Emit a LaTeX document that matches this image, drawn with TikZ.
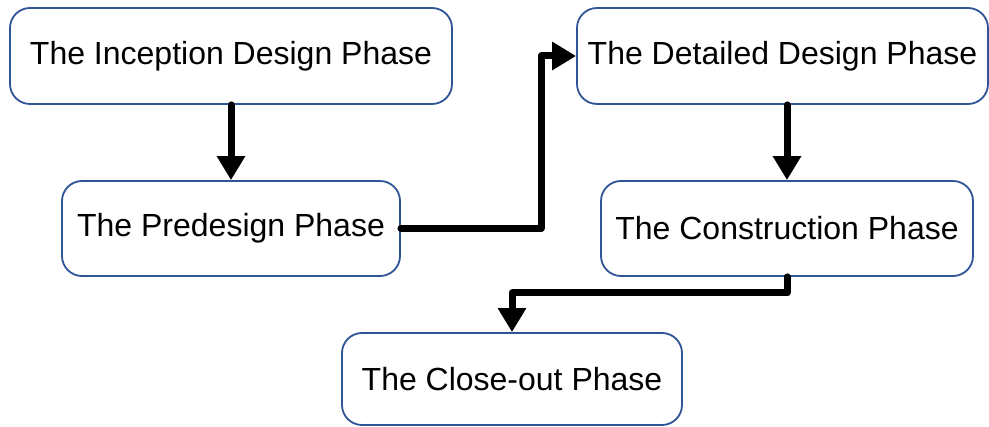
\documentclass[tikz,border=0pt]{standalone}
\usepackage{fontspec}
\setmainfont{Liberation Sans}
\usetikzlibrary{arrows.meta}
\definecolor{phaseblue}{RGB}{47,85,151}
\begin{document}
\begin{tikzpicture}[x=1pt,y=-1pt,
  phase/.style={draw=phaseblue, line width=1.8pt, rounded corners=20pt,
    fill=white, inner sep=0pt, font=\fontsize{32}{36}\selectfont},
  flow/.style={line width=7pt, line cap=round, line join=round,
    -{Triangle[length=24pt,width=27pt]}}
]
\useasboundingbox (0,0) rectangle (989,427);

% project phases
\node[phase, minimum width=442pt, minimum height=96pt] (inception) at (231,56) {The Inception Design Phase};
\node[phase, minimum width=338pt, minimum height=95pt] (predesign) at (231,228.5) {The Predesign Phase};
\node[phase, minimum width=411pt, minimum height=96pt] (detailed) at (782.5,56) {The Detailed Design Phase};
\node[phase, minimum width=372pt, minimum height=95pt] (construction) at (787,228.5) {The Construction Phase};
\node[phase, minimum width=340pt, minimum height=92pt] (closeout) at (512,379) {The Close-out Phase};

% bend points of the elbow connectors
\coordinate (upbend) at (541,228.5);
\coordinate (downbend) at (787,293);

% connectors
\draw[flow] (inception.south) -- (predesign.north);
\draw[flow] (predesign.east) -- (upbend) |- (detailed.west);
\draw[flow] (construction.north |- detailed.south) -- (construction.north);
\draw[flow] (construction.south) -- (downbend) -| (closeout.north);
\end{tikzpicture}
\end{document}
